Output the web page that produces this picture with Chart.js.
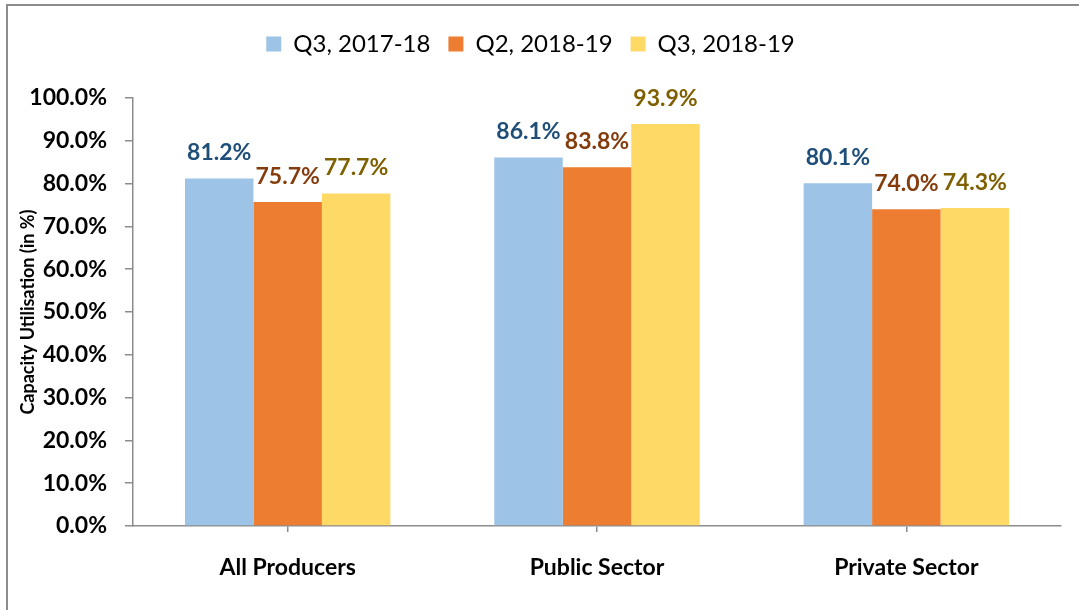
<!DOCTYPE html>
<html>
<head>
<meta charset="utf-8">
<script src="https://cdn.jsdelivr.net/npm/chart.js@4"></script>
<style>
  html, body { margin: 0; padding: 0; background: #fff; overflow: hidden; }
  #wrap { position: relative; width: 1079px; height: 610px; }
  #frame { position: absolute; left: 6px; top: 4px; width: 1200px; height: 800px;
           border: 2px solid #8c8c8c; pointer-events: none; }
</style>
</head>
<body>
<div id="wrap">
  <canvas id="myChart1" width="1079" height="610"></canvas>
  <div id="frame"></div>
</div>
<script>
var categories = ["All Producers", "Public Sector", "Private Sector"];
var seriesNames = ["Q3, 2017-18", "Q2, 2018-19", "Q3, 2018-19"];
var q3_2017_18 = [81.2, 86.1, 80.1];
var q2_2018_19 = [75.7, 83.8, 74.0];
var q3_2018_19 = [77.7, 93.9, 74.3];

var barColors = ["#9DC3E6", "#ED7D31", "#FFD966"];
var labelColors = ["#1F4E79", "#843C0C", "#7F6000"];
var axisColor = "#8c8c8c";

// value labels above bars
var barLabels = {
  id: 'barLabels',
  afterDatasetsDraw: function(chart) {
    var ctx = chart.ctx;
    ctx.save();
    ctx.font = "bold 23px Lato";
    ctx.textAlign = "center";
    ctx.textBaseline = "alphabetic";
    chart.data.datasets.forEach(function(ds, i) {
      chart.getDatasetMeta(i).data.forEach(function(bar, j) {
        ctx.fillStyle = labelColors[i];
        ctx.fillText(ds.data[j].toFixed(1) + "%", bar.x, bar.y - 18);
      });
    });
    ctx.restore();
  }
};

// make the legend taller so the plot starts lower
var legendHeight = {
  id: 'legendHeight',
  beforeInit: function(chart) {
    var fit = chart.legend.fit;
    chart.legend.fit = function() {
      fit.call(this);
      this.height = 84;
    };
  }
};

var ctx = document.getElementById("myChart1").getContext('2d');
var myChart = new Chart(ctx, {
  type: 'bar',
  data: {
    labels: categories,
    datasets: [
      { label: seriesNames[0], data: q3_2017_18, backgroundColor: barColors[0], borderWidth: 0 },
      { label: seriesNames[1], data: q2_2018_19, backgroundColor: barColors[1], borderWidth: 0 },
      { label: seriesNames[2], data: q3_2018_19, backgroundColor: barColors[2], borderWidth: 0 }
    ]
  },
  plugins: [barLabels, legendHeight],
  options: {
    responsive: false,
    animation: false,
    layout: { padding: { top: 14, right: 18, bottom: 0, left: 0 } },
    plugins: {
      legend: {
        position: 'top',
        labels: {
          boxWidth: 15,
          boxHeight: 15,
          padding: 18,
          color: '#000',
          font: { family: 'Lato', size: 24 }
        }
      },
      tooltip: { enabled: false }
    },
    datasets: {
      bar: { categoryPercentage: 0.664, barPercentage: 1.0 }
    },
    scales: {
      x: {
        afterFit: function(scale) { scale.height = 84; },
        grid: { display: true, drawOnChartArea: false, offset: false, tickLength: 6, color: axisColor, lineWidth: 1.5 },
        border: { display: true, color: axisColor, width: 1.5 },
        ticks: { color: '#000', padding: 22, font: { family: 'Lato', size: 23, weight: 'bold' } }
      },
      y: {
        min: 0,
        max: 100,
        afterFit: function(scale) { scale.width = 133; },
        grid: { display: true, drawOnChartArea: false, tickLength: 8, color: axisColor, lineWidth: 1.5 },
        border: { display: true, color: axisColor, width: 1.5 },
        ticks: {
          stepSize: 10,
          color: '#000',
          padding: 18,
          font: { family: 'Lato', size: 23, weight: 'bold' },
          callback: function(v) { return v.toFixed(1) + '%'; }
        },
        title: {
          display: true,
          text: 'Capacity Utilisation (in %)',
          color: '#000',
          padding: { top: 17, bottom: 0 },
          font: { family: 'Lato', size: 18, weight: 'bold' }
        }
      }
    }
  }
});
</script>
</body>
</html>
